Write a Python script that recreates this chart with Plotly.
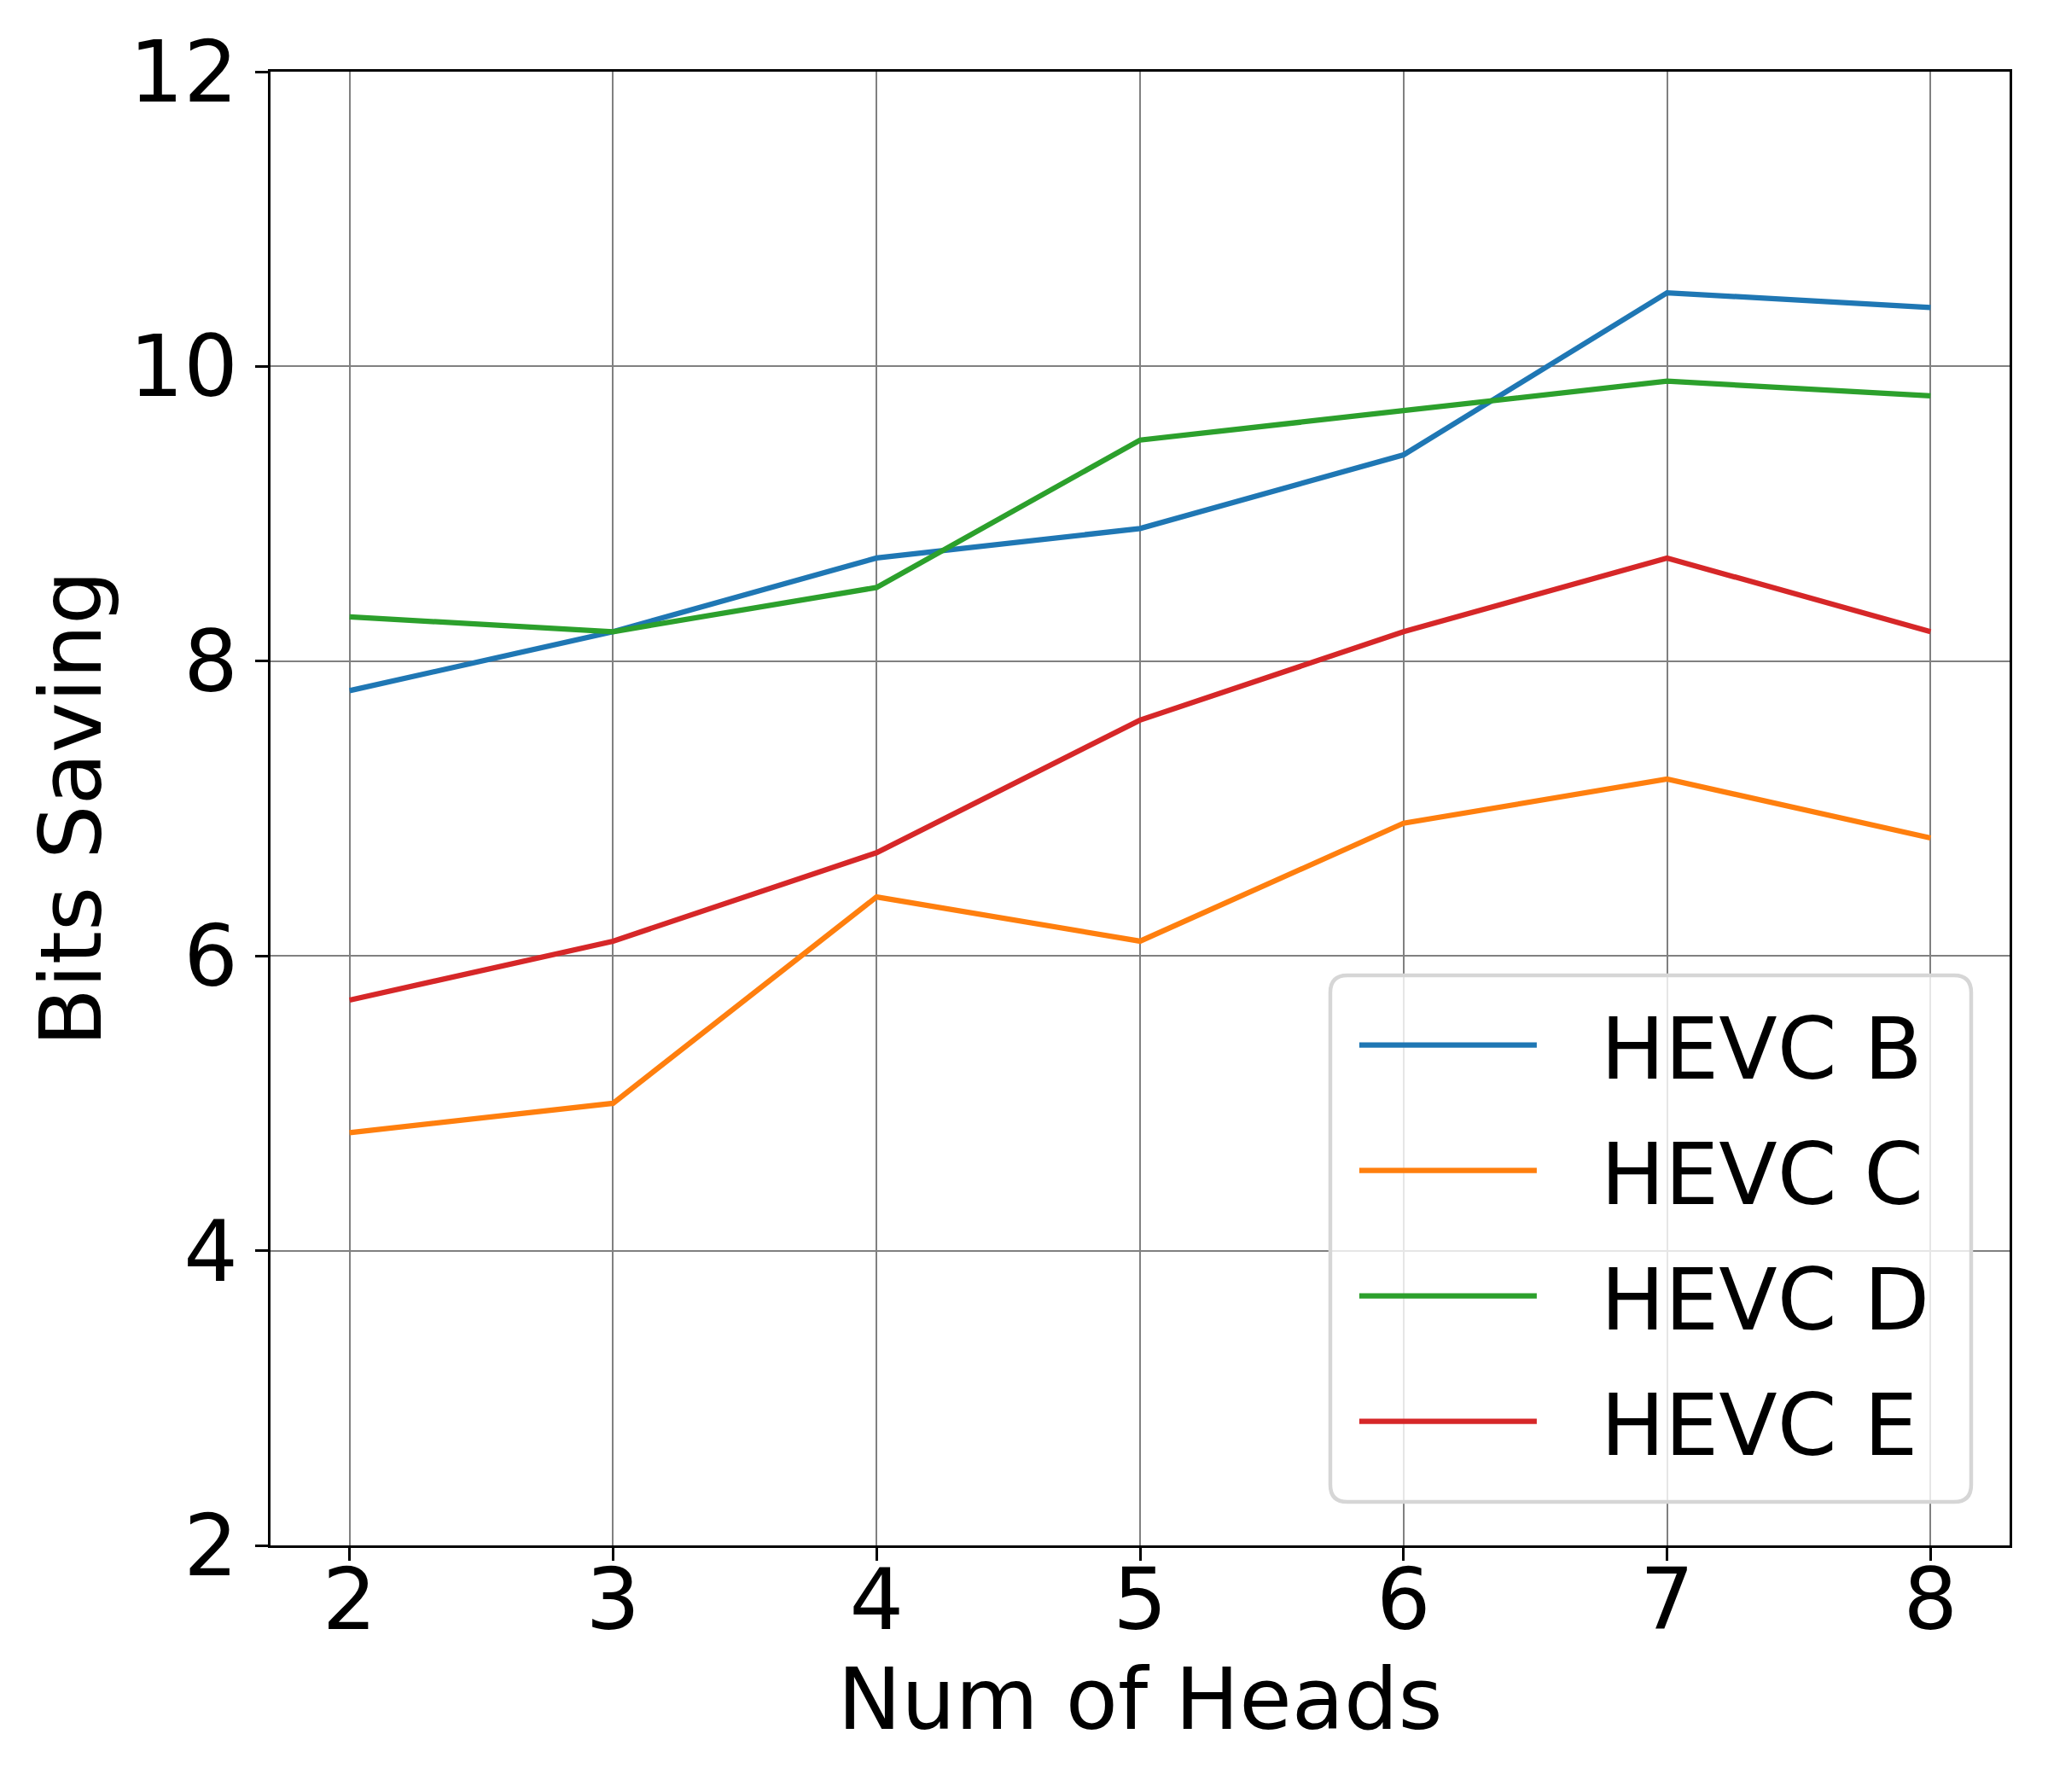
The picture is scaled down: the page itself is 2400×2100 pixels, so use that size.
import plotly.graph_objects as go

heads = [2, 3, 4, 5, 6, 7, 8]
hevc_b = [7.8, 8.2, 8.7, 8.9, 9.4, 10.5, 10.4]
hevc_c = [4.8, 5.0, 6.4, 6.1, 6.9, 7.2, 6.8]
hevc_d = [8.3, 8.2, 8.5, 9.5, 9.7, 9.9, 9.8]
hevc_e = [5.7, 6.1, 6.7, 7.6, 8.2, 8.7, 8.2]
y_ticks = [2, 4, 6, 8, 10, 12]

series = [
    ("HEVC B", hevc_b, "#1f77b4"),
    ("HEVC C", hevc_c, "#ff7f0e"),
    ("HEVC D", hevc_d, "#2ca02c"),
    ("HEVC E", hevc_e, "#d62728"),
]

FONT = "DejaVu Sans"
PAD = "\u2002\u2009"

fig = go.Figure()
for i, (name, vals, color) in enumerate(series):
    fig.add_trace(go.Scatter(
        x=heads, y=vals, mode="lines", name=PAD + name,
        line=dict(color=color, width=6.25),
        legendgroup=f"g{i}",
    ))

axis_common = dict(
    showline=True, linecolor="black", linewidth=3.3, mirror=True,
    ticks="outside", ticklen=15, tickwidth=3.3, tickcolor="black",
    showgrid=True, gridcolor="#808080", gridwidth=2,
    zeroline=False,
    tickfont=dict(family=FONT, size=100, color="black"),
)

# rounded legend frame (matplotlib-style), in plot-area fractions
x0, x1, y0, y1 = 0.6094, 0.9779, 0.0295, 0.3868
rx, ry = 0.0098, 0.0116
frame_path = (
    f"M {x0+rx},{y1} L {x1-rx},{y1} Q {x1},{y1} {x1},{y1-ry} "
    f"L {x1},{y0+ry} Q {x1},{y0} {x1-rx},{y0} "
    f"L {x0+rx},{y0} Q {x0},{y0} {x0},{y0+ry} "
    f"L {x0},{y1-ry} Q {x0},{y1} {x0+rx},{y1} Z"
)

fig.update_layout(
    width=2384, height=2084,
    margin=dict(l=309, r=37, t=76, b=281),
    paper_bgcolor="white", plot_bgcolor="white",
    font=dict(family=FONT, size=100, color="black"),
    showlegend=True,
    legend=dict(
        x=0.6236, y=0.381, xanchor="left", yanchor="top",
        bgcolor="rgba(0,0,0,0)",
        borderwidth=0,
        font=dict(family=FONT, size=100, color="black"),
        tracegroupgap=14,
        itemwidth=208,
    ),
    shapes=[dict(
        type="path", path=frame_path, xref="paper", yref="paper",
        fillcolor="rgba(255,255,255,0.8)",
        line=dict(color="#d6d6d6", width=4.5),
        layer="above",
    )],
    xaxis=dict(
        range=[1.7, 8.3], tickmode="array", tickvals=heads,
        ticktext=[str(h) for h in heads],
        ticklabelstandoff=-40,
        title=dict(text="Num of Heads", font=dict(family=FONT, size=100), standoff=24),
        **axis_common,
    ),
    yaxis=dict(
        range=[2, 12], tickmode="array", tickvals=y_ticks,
        ticktext=[str(v) for v in y_ticks],
        title=dict(text="Bits Saving", font=dict(family=FONT, size=100), standoff=0),
        **axis_common,
    ),
)

fig.write_html("out.html")
